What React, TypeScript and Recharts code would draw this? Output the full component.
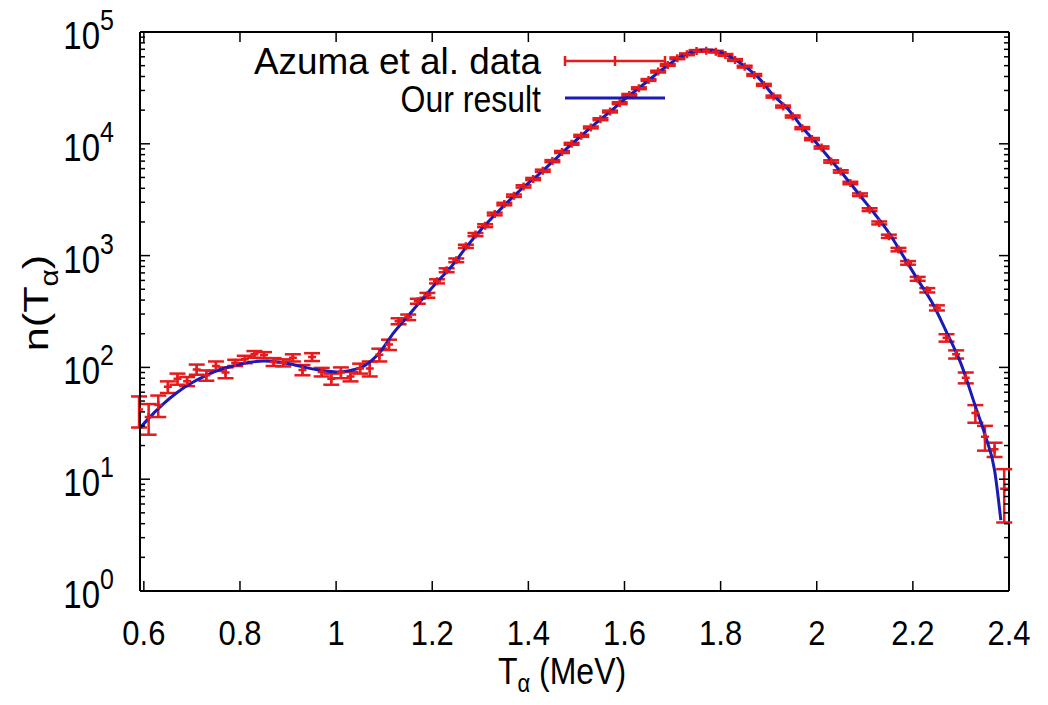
import React from "react";
import {
  ComposedChart,
  Scatter,
  Line,
  XAxis,
  YAxis,
  ErrorBar,
  ReferenceLine,
  Legend,
} from "recharts";

// Azuma et al. measured spectrum (MeV, counts, error)
const energy = [
  0.59, 0.61, 0.63, 0.65, 0.67, 0.69, 0.71, 0.73, 0.75, 0.77,
  0.79, 0.81, 0.83, 0.85, 0.87, 0.89, 0.91, 0.93, 0.95, 0.97,
  0.99, 1.01, 1.03, 1.05, 1.07, 1.09, 1.11, 1.13, 1.15, 1.17,
  1.19, 1.21, 1.23, 1.25, 1.27, 1.29, 1.31, 1.33, 1.35, 1.37,
  1.39, 1.41, 1.43, 1.45, 1.47, 1.49, 1.51, 1.53, 1.55, 1.57,
  1.59, 1.61, 1.63, 1.65, 1.67, 1.69, 1.71, 1.73, 1.75, 1.77,
  1.79, 1.81, 1.83, 1.85, 1.87, 1.89, 1.91, 1.93, 1.95, 1.97,
  1.99, 2.01, 2.03, 2.05, 2.07, 2.09, 2.11, 2.13, 2.15, 2.17,
  2.19, 2.21, 2.23, 2.25, 2.27, 2.29, 2.31, 2.33, 2.35, 2.37,
  2.39,
];
const counts = [
  42, 36, 46, 67, 79, 75, 96, 85, 103, 90,
  110, 118, 131, 129, 112, 110, 122, 95, 124, 91,
  79, 90, 83, 98, 98, 130, 160, 259, 281, 391,
  442, 589, 740, 908, 1211, 1542, 1854, 2356, 2893, 3434,
  4160, 4842, 5741, 7000, 8450, 10000, 11790, 14000, 16600, 19440,
  23080, 27380, 31400, 37250, 44240, 50750, 58200, 63200, 67700, 68100,
  66700, 62400, 56200, 49000, 41300, 33650, 26440, 21530, 17540, 13800,
  11020, 9270, 6950, 5660, 4460, 3505, 2577, 1960, 1489, 1132,
  861, 620, 490, 341, 184, 131, 81, 39, 24, 18.5,
  8.2,
];
const countErr = [
  13, 11, 10, 8, 9, 7, 10, 9, 10, 10,
  7, 9, 9, 8, 9, 8, 9, 10, 10, 8,
  9, 10, 8, 10, 15, 17, 17, 16, 16, 20,
  22, 25, 30, 35, 40, 50, 55, 65, 75, 85,
  100, 110, 130, 150, 180, 200, 240, 280, 330, 380,
  450, 520, 600, 700, 820, 950, 1050, 1150, 1200, 1200,
  1200, 1150, 1050, 950, 800, 700, 550, 450, 380, 300,
  250, 210, 170, 140, 115, 95, 75, 60, 50, 40,
  32, 25, 22, 18, 14, 11, 9, 7, 6, 2.7,
  4.1,
];

// calculated spectrum
const theoryE = [
  0.59, 0.61, 0.64, 0.67, 0.7, 0.73, 0.76, 0.79, 0.82, 0.85,
  0.88, 0.91, 0.94, 0.97, 1.0, 1.03, 1.06, 1.09, 1.12, 1.15,
  1.18, 1.21, 1.24, 1.27, 1.3, 1.33, 1.36, 1.39, 1.42, 1.45,
  1.48, 1.51, 1.54, 1.57, 1.6, 1.63, 1.66, 1.69, 1.72, 1.745,
  1.77, 1.795, 1.82, 1.85, 1.88, 1.91, 1.94, 1.97, 2.0, 2.03,
  2.06, 2.09, 2.12, 2.15, 2.18, 2.21, 2.24, 2.27, 2.3, 2.33,
  2.35, 2.37, 2.383,
];
const theoryN = [
  28, 35, 47, 60, 73, 85, 96, 104, 111, 114,
  111, 106, 99, 94, 91, 94, 104, 135, 205, 290,
  410, 580, 800, 1180, 1680, 2300, 3100, 4100, 5250, 6900,
  9100, 11800, 15200, 19400, 25000, 31500, 40000, 50500, 61000, 67000,
  69000, 67000, 60000, 49500, 38500, 27000, 20500, 14000, 10100, 7100,
  5000, 3450, 2380, 1600, 990, 610, 380, 207, 108, 45,
  25, 12, 4.3,
];

const xTicks = [0.6, 0.8, 1, 1.2, 1.4, 1.6, 1.8, 2, 2.2, 2.4];
const decades = [1, 10, 100, 1000, 10000, 100000];
const yTicks = decades.flatMap((d) =>
  d === 100000 ? [d] : [1, 2, 3, 4, 5, 6, 7, 8, 9].map((m) => m * d)
);

const seriesNames = ["Azuma et al. data", "Our result"];

const azuma = energy.map((x, i) => ({ x, y: counts[i], err: countErr[i] }));
const theory = theoryE.map((x, i) => ({ x, y: theoryN[i] }));

// chart covers the whole window (body margin cancelled)
const W = 1048;
const H = 705;
const PLOT_W = 869;
const PLOT_H = 559;
const RED = "#e61a1c";
const BLUE = "#1a1ab4";
const FONT = "'Liberation Sans', Arial, sans-serif";
const SY = 1.15;

const XTick = (props: any) => {
  const { x, y, payload } = props;
  return (
    <g>
      <line x1={x} y1={y} x2={x} y2={y - 10} stroke="#000" strokeWidth={1.5} />
      <line x1={x} y1={y - PLOT_H} x2={x} y2={y - PLOT_H + 10} stroke="#000" strokeWidth={1.5} />
      <text
        transform={`translate(${x},${y + 54}) scale(1,${SY})`}
        textAnchor="middle"
        fontSize={31}
        fontFamily={FONT}
        fill="#000"
      >
        {String(payload.value)}
      </text>
    </g>
  );
};

const YTick = (props: any) => {
  const { x, y, payload } = props;
  const v = payload.value;
  const exp = Math.round(Math.log10(v));
  const major = Math.abs(Math.pow(10, exp) - v) < 1e-6;
  const len = major ? 10 : 5;
  return (
    <g>
      <line x1={x} y1={y} x2={x + len} y2={y} stroke="#000" strokeWidth={1.5} />
      <line x1={x + PLOT_W} y1={y} x2={x + PLOT_W - len} y2={y} stroke="#000" strokeWidth={1.5} />
      {major && (
        <g fontFamily={FONT} fill="#000">
          <text transform={`translate(${x - 40},${y + 17}) scale(1,${SY})`} textAnchor="end" fontSize={33}>
            10
          </text>
          <text transform={`translate(${x - 40},${y - 2}) scale(1,${SY})`} textAnchor="start" fontSize={25}>
            {exp}
          </text>
        </g>
      )}
    </g>
  );
};

const XTitle = () => (
  <text
    transform={`translate(562,684) scale(1,${SY})`}
    textAnchor="middle"
    fontSize={32}
    fontFamily={FONT}
    fill="#000"
  >
    T
    <tspan fontSize={22} dy={7}>α</tspan>
    <tspan dy={-7}> (MeV)</tspan>
  </text>
);

const YTitle = () => (
  <text
    transform={`translate(48,303) rotate(-90) scale(1.2,1)`}
    textAnchor="middle"
    fontSize={36}
    fontFamily={FONT}
    fill="#000"
  >
    n(T
    <tspan fontSize={25} dy={10}>α</tspan>
    <tspan dy={-10}>)</tspan>
  </text>
);

const Plus = (props: any) => {
  const { cx, cy } = props;
  return (
    <path
      d={`M${cx - 4},${cy}H${cx + 4}M${cx},${cy - 4}V${cy + 4}`}
      stroke={RED}
      strokeWidth={2.5}
      fill="none"
    />
  );
};

const LegendBox = () => (
  <svg width={W} height={130} style={{ position: "absolute", left: 0, top: 0 }}>
    <g fontFamily={FONT} fontSize={32} fill="#000">
      <text
        transform={`translate(541,74) scale(1,${SY})`}
        textAnchor="end"
        textLength={287}
        lengthAdjust="spacingAndGlyphs"
      >
        {seriesNames[0]}
      </text>
      <text transform={`translate(541,112) scale(1,${SY})`} textAnchor="end">
        {seriesNames[1]}
      </text>
    </g>
    <g stroke={RED} strokeWidth={2.5}>
      <line x1={565} y1={61} x2={665} y2={61} />
      <line x1={565} y1={56} x2={565} y2={66} />
      <line x1={615} y1={56} x2={615} y2={66} />
      <line x1={665} y1={56} x2={665} y2={66} />
    </g>
    <line x1={565} y1={98} x2={665} y2={98} stroke={BLUE} strokeWidth={3} />
  </svg>
);

export default function App() {
  return (
    <div style={{ width: W, height: H, position: "relative", margin: -8 }}>
      <ComposedChart width={W} height={H} margin={{ top: 32, right: 39, bottom: 0, left: 0 }}>
        <XAxis
          dataKey="x"
          type="number"
          domain={[0.592, 2.4]}
          allowDataOverflow
          ticks={xTicks}
          interval={0}
          height={114}
          tickLine={false}
          tickSize={0}
          tickMargin={0}
          tick={<XTick />}
          axisLine={{ stroke: "#000", strokeWidth: 2 }}
          label={<XTitle />}
        />
        <YAxis
          dataKey="y"
          type="number"
          scale="log"
          domain={[1, 100000]}
          allowDataOverflow
          ticks={yTicks}
          interval={0}
          width={140}
          tickLine={false}
          tickSize={0}
          tickMargin={0}
          tick={<YTick />}
          axisLine={{ stroke: "#000", strokeWidth: 2 }}
          label={<YTitle />}
        />
        <ReferenceLine y={100000} stroke="#000" strokeWidth={2} />
        <ReferenceLine x={2.4} stroke="#000" strokeWidth={2} />
        <Scatter
          name={seriesNames[0]}
          data={azuma}
          dataKey="y"
          fill={RED}
          shape={<Plus />}
          isAnimationActive={false}
        >
          <ErrorBar dataKey="err" direction="y" width={8} stroke={RED} strokeWidth={2.5} />
        </Scatter>
        <Line
          name={seriesNames[1]}
          data={theory}
          dataKey="y"
          type="monotone"
          stroke={BLUE}
          strokeWidth={3}
          dot={false}
          isAnimationActive={false}
        />
        <Legend
          layout="horizontal"
          verticalAlign="middle"
          align="center"
          wrapperStyle={{ position: "absolute", left: 0, top: 0, width: W, height: 130 }}
          content={() => <LegendBox />}
        />
      </ComposedChart>
    </div>
  );
}
